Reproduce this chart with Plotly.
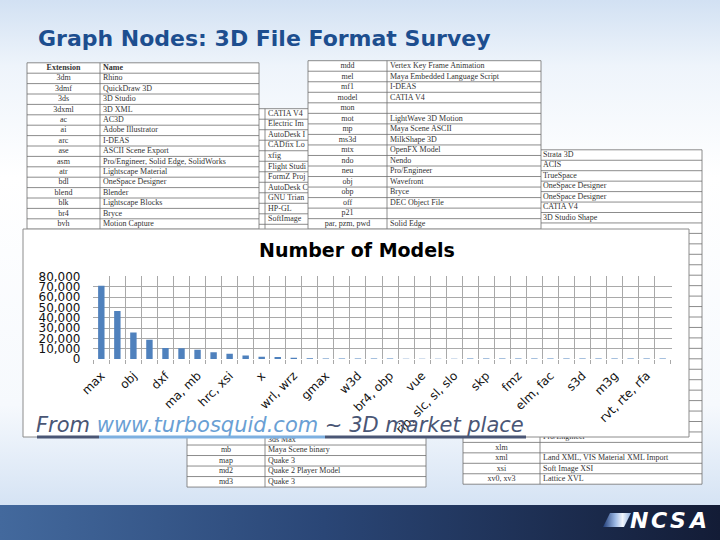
import plotly.graph_objects as go

W, H = 720, 540

# ---------------- chart data ----------------
tick_labels = ["max", "obj", "dxf", "ma, mb", "hrc, xsi", "x", "wrl, wrz", "gmax", "w3d",
               "br4, obp", "vue", "rib, slc, sl, slo", "skp", "fmz", "elm, fac", "s3d", "m3g",
               "rvt, rte, rfa"]
model_counts = [71000, 46500, 25800, 18600, 10600, 10500, 9000, 6500, 5000, 3500, 2200, 2000,
                1100, 700, 600, 600, 550, 500, 500, 150, 150, 150, 150, 450,
                450, 450, 450, 450, 450, 450, 450, 450, 450, 450, 450, 450]
y_ticks = [0, 10000, 20000, 30000, 40000, 50000, 60000, 70000, 80000]

# ---------------- background tables (text) ----------------
tableA_ext = ["<b>Extension</b>", "3dm", "3dmf", "3ds", "3dxml", "ac", "ai", "arc", "ase", "asm",
              "atr", "bdl", "blend", "blk", "br4", "bvh"]
tableA_name = ["<b>Name</b>", "Rhino", "QuickDraw 3D", "3D Studio", "3D XML", "AC3D",
               "Adobe Illustrator", "I-DEAS", "ASCII Scene Export",
               "Pro/Engineer, Solid Edge, SolidWorks", "Lightscape Material",
               "OneSpace Designer", "Blender", "Lightscape Blocks", "Bryce", "Motion Capture"]

tableB_top_name = ["CATIA V4", "Electric Im", "AutoDesk I", "CADfix Lo", "xfig",
                   "Flight Studi", "FormZ Proj", "AutoDesk C",
                   "GNU Trian", "HP-GL", "SoftImage"]
tableB_bottom_ext = ["", "mb", "map", "md2", "md3"]
tableB_bottom_name = ["3ds Max", "Maya Scene binary", "Quake 3", "Quake 2 Player Model", "Quake 3"]

tableC_ext = ["mdd", "mel", "mf1", "model", "mon", "mot", "mp", "ms3d", "mtx", "ndo", "neu",
              "obj", "obp", "off", "p21", "par, pzm, pwd"]
tableC_name = ["Vertex Key Frame Animation", "Maya Embedded Language Script", "I-DEAS",
               "CATIA V4", "", "LightWave 3D Motion", "Maya Scene ASCII", "MilkShape 3D",
               "OpenFX Model", "Nendo", "Pro/Engineer", "Wavefront", "Bryce",
               "DEC Object File", "", "Solid Edge"]

tableD_top_name = ["Strata 3D", "ACIS", "TrueSpace", "OneSpace Designer", "OneSpace Designer",
                   "CATIA V4", "3D Studio Shape"]
tableD_bottom_ext = ["", "xlm", "xml", "xsi", "xv0, xv3"]
tableD_bottom_name = ["Pro/Engineer", "", "Land XML, VIS Material XML Import",
                      "Soft Image XSI", "Lattice XVL"]

# ---------------- figure ----------------
fig = go.Figure()
PAGE = dict(xaxis="x", yaxis="y", hoverinfo="skip", showlegend=False)


def rect(x0, y0, x1, y1, **kw):
    return go.Scatter(x=[x0, x1, x1, x0, x0], y=[y0, y0, y1, y1, y0], mode="lines",
                      fill="toself", **PAGE, **kw)


# slide background
fig.add_trace(rect(0, 0, W, 506, line=dict(width=0),
                   fillgradient=dict(type="vertical", start=0, stop=506,
                                     colorscale=[[0, "#d2e1f3"], [0.13, "#eef4fb"],
                                                 [0.35, "#ffffff"], [0.8, "#f6f9fd"],
                                                 [1, "#d5e3f4"]])))
# footer bar
fig.add_trace(rect(0, 505, W, H, line=dict(width=0),
                   fillgradient=dict(type="horizontal", start=0, stop=W,
                                     colorscale=[[0, "#43699d"], [0.45, "#2a4676"],
                                                 [1, "#131c36"]])))
# NCSA icon
fig.add_trace(go.Scatter(x=[603, 610, 631, 624, 603], y=[527, 513, 513, 527, 527], mode="lines",
                         fill="toself", line=dict(width=0), **PAGE,
                         fillgradient=dict(type="horizontal", start=603, stop=631,
                                           colorscale=[[0, "#1f3c78"], [0.45, "#9fbbe6"],
                                                       [0.7, "#f2f6fc"], [1, "#8fb0e0"]])))

LINE_C = "#6e6e6e"
TXT_FONT = dict(family="Liberation Serif", size=8, color="#333333")


def draw_table(left, div, right, top, bottom, dy, rows):
    """rows: list of (row_index, ext_text, name_text)"""
    fig.add_trace(rect(left, top, right, bottom, fillcolor="white", line=dict(width=0)))
    xs, ys = [], []
    y = top
    while y <= bottom + 0.01:
        xs += [left, right, None]
        ys += [y, y, None]
        y += dy
    for xv in (left, div, right):
        xs += [xv, xv, None]
        ys += [top, bottom, None]
    fig.add_trace(go.Scatter(x=xs, y=ys, mode="lines", line=dict(color=LINE_C, width=0.8),
                             **PAGE))
    yc = [top + (r + 0.5) * dy for r, _, _ in rows]
    fig.add_trace(go.Scatter(x=[(left + div) / 2] * len(rows), y=yc, mode="text",
                             text=[e for _, e, _ in rows], textposition="middle center",
                             textfont=TXT_FONT, cliponaxis=False, **PAGE))
    fig.add_trace(go.Scatter(x=[div + 3] * len(rows), y=yc, mode="text",
                             text=[n for _, _, n in rows], textposition="middle right",
                             textfont=TXT_FONT, cliponaxis=False, **PAGE))


# table D (right)
rowsD = [(i, "", n) for i, n in enumerate(tableD_top_name)] + \
        [(27 + i, e, n) for i, (e, n) in enumerate(zip(tableD_bottom_ext, tableD_bottom_name))]
draw_table(463, 540, 702, 149.8, 484.2, 10.45, rowsD)
# table B (middle)
rowsB = [(i, "", n) for i, n in enumerate(tableB_top_name)] + \
        [(31 + i, e, n) for i, (e, n) in enumerate(zip(tableB_bottom_ext, tableB_bottom_name))]
draw_table(187, 265, 426, 108.7, 487.1, 10.51, rowsB)
# table A (left)
rowsA = [(i, e, n) for i, (e, n) in enumerate(zip(tableA_ext, tableA_name))]
draw_table(27, 100, 259, 62.8, 397.6, 10.4, rowsA)
# table C (center)
rowsC = [(i, e, n) for i, (e, n) in enumerate(zip(tableC_ext, tableC_name))]
draw_table(308, 387, 541, 60.7, 397.7, 10.53, rowsC)

# chart box
fig.add_trace(rect(23, 229, 689, 437, fillcolor="white", line=dict(color="#8c8c8c", width=1)))

# bars
fig.add_trace(go.Bar(x=list(range(len(model_counts))), y=model_counts, xaxis="x2", yaxis="y2",
                     width=0.4, marker=dict(color="#4f81bd", line=dict(width=0)),
                     hoverinfo="skip", showlegend=False))

GRID = "#a9a9a9"
fig.update_layout(
    width=W, height=H, margin=dict(l=0, r=0, t=0, b=0, pad=0, autoexpand=False),
    paper_bgcolor="white", plot_bgcolor="rgba(0,0,0,0)", hovermode=False,
    xaxis=dict(domain=[0, 1], range=[0, W], visible=False, fixedrange=True),
    yaxis=dict(domain=[0, 1], range=[H, 0], visible=False, fixedrange=True),
    xaxis2=dict(domain=[92.5 / W, 671.5 / W], anchor="y2", range=[-0.55, 35.55],
                tickmode="array", tickvals=list(range(0, 36, 2)), ticktext=tick_labels,
                tickangle=-45, tickfont=dict(family="DejaVu Sans", size=12, color="#111111"),
                showgrid=False, zeroline=False, showline=False, ticks="",
                ticklabelstandoff=6, automargin=False, fixedrange=True,
                minor=dict(tickmode="array", tickvals=[i - 0.5 for i in range(37)],
                           showgrid=True, gridcolor=GRID, gridwidth=1, ticks="outside",
                           ticklen=4, tickcolor=GRID)),
    yaxis2=dict(domain=[1 - 359.41 / H, 1 - 276.1 / H], anchor="x2", range=[-400, 80400],
                tickmode="array", tickvals=y_ticks, tickformat=",",
                tickfont=dict(family="DejaVu Sans", size=12, color="#111111"),
                showgrid=True, gridcolor=GRID, gridwidth=1, zeroline=False, fixedrange=True,
                ticks="", ticklabelstandoff=11, showline=False, automargin=False),
    font=dict(family="DejaVu Sans"),
)

ann = []
ann.append(dict(xref="x", yref="y", x=36, y=38, xanchor="left", yanchor="middle",
                text="<b>Graph Nodes: 3D File Format Survey</b>", showarrow=False,
                font=dict(family="DejaVu Sans", size=22, color="#1d4e8f")))
ann.append(dict(xref="x", yref="y", x=357, y=250, xanchor="center", yanchor="middle",
                text="<b>Number of Models</b>", showarrow=False,
                font=dict(family="DejaVu Sans", size=19, color="#000000")))
ann.append(dict(xref="x", yref="y", x=34, y=425, xanchor="left", yanchor="middle",
                text="<i>From <span style='color:#6a9fd4'>www.turbosquid.com</span> ~ 3D market place</i>",
                showarrow=False, font=dict(family="DejaVu Sans", size=21, color="#4a5675")))
for letter, cx in zip("NCSA", [639, 658.5, 677.5, 697.5]):
    ann.append(dict(xref="x", yref="y", x=cx, y=520, xanchor="center", yanchor="middle",
                    text="<b><i>" + letter + "</i></b>", showarrow=False,
                    font=dict(family="DejaVu Sans", size=22, color="#ffffff")))
fig.update_layout(annotations=ann)

shapes = []
for x0, x1, col in [(37, 99, "#4a5675"), (99, 325, "#7eb0e0"), (325, 526, "#4a5675")]:
    shapes.append(dict(type="line", xref="x", yref="y", x0=x0, x1=x1, y0=437, y1=437,
                       line=dict(color=col, width=3), layer="above"))
fig.update_layout(shapes=shapes)

fig.write_html("out.html", config={"displayModeBar": False, "staticPlot": True},
               post_script="document.body.style.margin='0px';document.body.style.padding='0px';")
